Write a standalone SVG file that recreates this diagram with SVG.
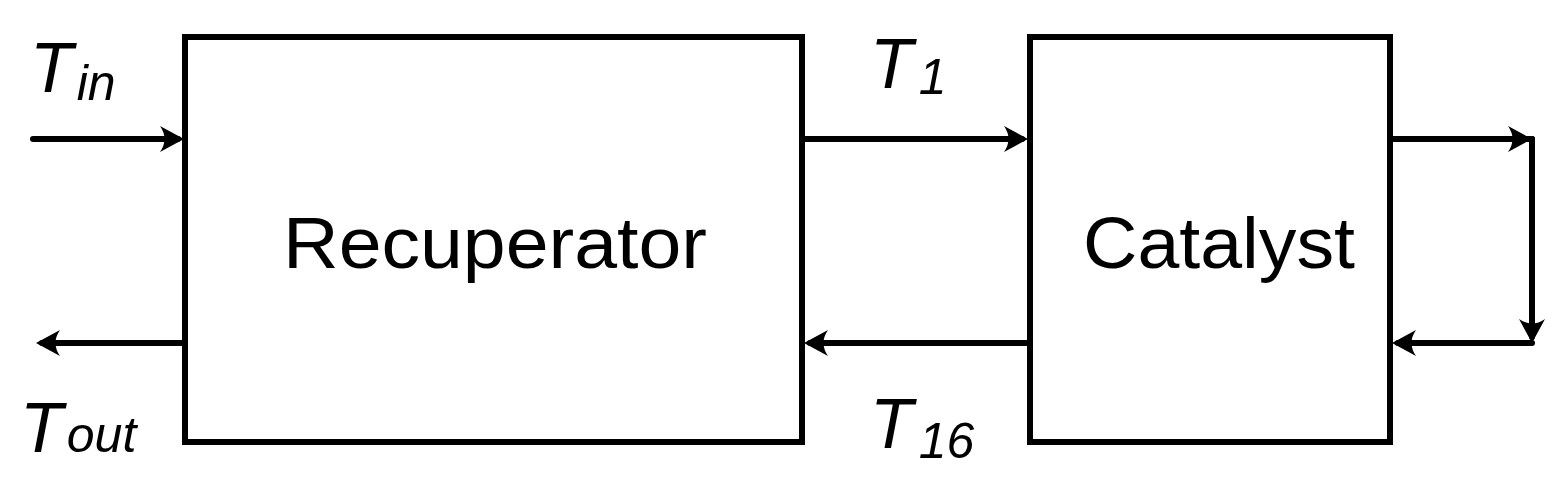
<svg xmlns="http://www.w3.org/2000/svg" width="1565" height="483" viewBox="0 0 1565 483">
<style>
.box{fill:#fff;stroke:#000;stroke-width:6}
.ln{fill:none;stroke:#000;stroke-width:6;stroke-linecap:round}
.lbl{font-family:"Liberation Sans",Arial,sans-serif;font-size:73px;fill:#000}
.t{font-family:"Liberation Sans",Arial,sans-serif;font-style:italic;font-size:70px;fill:#000}
.s{font-size:50px}
.ah{fill:#000}
</style>
<defs>
<path id="ah" class="ah" d="M0,0 L-24,-13 Q-15,0 -24,13 Z"/>
</defs>
<rect width="1565" height="483" fill="#fff"/>
<g id="connectors">
<line class="ln" x1="33" y1="139" x2="178" y2="139"/>
<use href="#ah" transform="translate(184,139)"/>
<line class="ln" x1="802" y1="139" x2="1022" y2="139"/>
<use href="#ah" transform="translate(1028,139)"/>
<line class="ln" x1="1390" y1="139" x2="1532" y2="139"/>
<use href="#ah" transform="translate(1532,139)"/>
<line class="ln" x1="1532" y1="139" x2="1532" y2="337"/>
<use href="#ah" transform="translate(1532,343) rotate(90)"/>
<line class="ln" x1="1532" y1="343" x2="1398" y2="343"/>
<use href="#ah" transform="translate(1392,343) rotate(180)"/>
<line class="ln" x1="1030" y1="343" x2="810" y2="343"/>
<use href="#ah" transform="translate(804,343) rotate(180)"/>
<line class="ln" x1="185" y1="343" x2="42" y2="343"/>
<use href="#ah" transform="translate(36,343) rotate(180)"/>
</g>
<g id="recuperator">
<rect class="box" x="185" y="37" width="617" height="405"/>
<text class="lbl" x="283" y="268" textLength="424" lengthAdjust="spacingAndGlyphs">Recuperator</text>
</g>
<g id="catalyst">
<rect class="box" x="1030" y="37" width="360" height="405"/>
<text class="lbl" x="1083" y="268" textLength="272" lengthAdjust="spacingAndGlyphs">Catalyst</text>
</g>
<g id="labels">
<text class="t" x="30" y="92">T<tspan class="s" dx="4" dy="8">in</tspan></text>
<text class="t" x="20" y="452">T<tspan class="s" dx="4" dy="0">out</tspan></text>
<text class="t" x="870" y="88">T<tspan class="s" dx="6" dy="6">1</tspan></text>
<text class="t" x="870" y="448">T<tspan class="s" dx="6" dy="10">16</tspan></text>
</g>
</svg>
